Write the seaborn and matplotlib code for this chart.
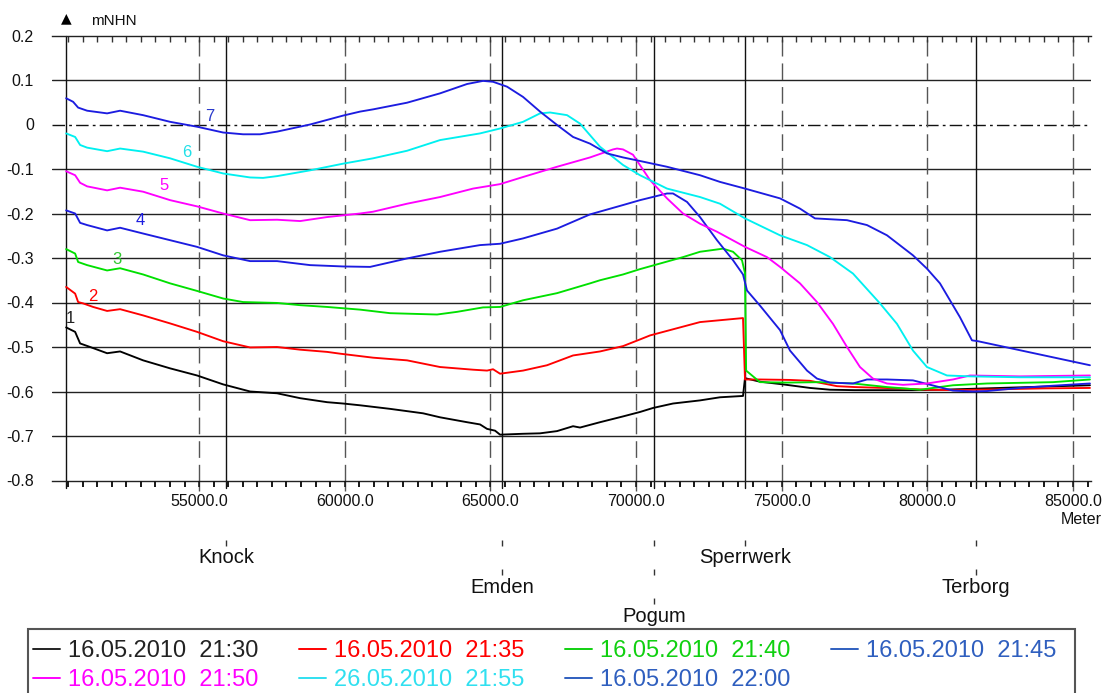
import numpy as np
import pandas as pd
import matplotlib
matplotlib.use("Agg")
import matplotlib.pyplot as plt
import matplotlib.transforms as mtransforms
from matplotlib.lines import Line2D
from matplotlib.patches import Rectangle
import seaborn as sns

# ---- water level profiles (station in metres, level in m NHN) ----
labels = ["16.05.2010  21:30", "16.05.2010  21:35", "16.05.2010  21:40",
          "16.05.2010  21:45", "16.05.2010  21:50", "26.05.2010  21:55",
          "16.05.2010  22:00"]

x1 = [50435, 50744, 50915, 51259, 51842, 52288, 53078, 54005, 54931, 55824,
      56751, 57677, 58467, 59394, 59943, 60526, 61556, 62689, 63272, 64199,
      64645, 64886, 65160, 65332, 66121, 66705, 67288, 67838, 68078, 68764,
      69554, 70137, 70584, 71270, 72197, 72883, 73673, 73741, 74256, 75046,
      75973, 76659, 77500, 78500, 79500, 80500, 81500, 82500, 83500, 84500, 85584]
y1 = [-0.456, -0.466, -0.492, -0.500, -0.514, -0.510, -0.530, -0.548, -0.564, -0.584,
      -0.600, -0.604, -0.615, -0.624, -0.627, -0.631, -0.639, -0.649, -0.658, -0.669,
      -0.674, -0.684, -0.688, -0.697, -0.695, -0.694, -0.689, -0.678, -0.681, -0.669,
      -0.656, -0.646, -0.637, -0.627, -0.620, -0.613, -0.610, -0.570, -0.578, -0.584,
      -0.592, -0.596, -0.597, -0.597, -0.597, -0.596, -0.594, -0.592, -0.590, -0.588, -0.586]

x2 = [50435, 50744, 50847, 51018, 51362, 51842, 52288, 53078, 54005, 54931,
      55824, 56751, 57677, 58467, 59394, 59840, 60973, 62140, 63272, 64405,
      64886, 65092, 65332, 66121, 66945, 67838, 68764, 69554, 70137, 70481,
      72197, 73673, 73741, 74256, 75286, 75973, 76899, 77500, 79000, 80000,
      81000, 82500, 84000, 85584]
y2 = [-0.365, -0.380, -0.399, -0.402, -0.410, -0.419, -0.415, -0.429, -0.447, -0.466,
      -0.487, -0.501, -0.500, -0.506, -0.511, -0.515, -0.524, -0.530, -0.545, -0.551,
      -0.553, -0.550, -0.560, -0.553, -0.541, -0.519, -0.510, -0.498, -0.483, -0.474,
      -0.444, -0.435, -0.573, -0.573, -0.574, -0.576, -0.588, -0.590, -0.593, -0.596,
      -0.597, -0.595, -0.593, -0.592]

x3 = [50435, 50744, 50847, 51156, 51842, 52288, 53078, 54005, 54931, 55824,
      56510, 57677, 58467, 59394, 60526, 61556, 63169, 63856, 64748, 65332,
      66121, 67288, 68421, 68764, 69554, 70137, 71613, 72197, 72986, 73330,
      73638, 73741, 73780, 74256, 75183, 76316, 77449, 78616, 79748, 80881,
      82048, 84314, 85584]
y3 = [-0.280, -0.290, -0.309, -0.316, -0.328, -0.323, -0.337, -0.357, -0.374, -0.391,
      -0.399, -0.401, -0.406, -0.410, -0.416, -0.424, -0.427, -0.421, -0.411, -0.410,
      -0.395, -0.379, -0.357, -0.350, -0.337, -0.325, -0.298, -0.286, -0.279, -0.286,
      -0.305, -0.334, -0.553, -0.579, -0.580, -0.579, -0.582, -0.590, -0.596, -0.586,
      -0.582, -0.579, -0.573]

x4 = [50435, 50744, 50915, 51156, 51842, 52288, 53078, 54005, 54931, 55824,
      56751, 57677, 58810, 59943, 60870, 62140, 63272, 64645, 65332, 66121,
      67288, 68421, 69554, 70137, 71064, 71270, 71751, 72197, 72780, 73330,
      73673, 73810, 74256, 74943, 75286, 75870, 76213, 76659, 77449, 77929,
      78616, 79508, 80881, 81568, 82048, 83181, 84314, 85584]
y4 = [-0.193, -0.200, -0.221, -0.226, -0.238, -0.232, -0.245, -0.260, -0.275, -0.294,
      -0.307, -0.307, -0.316, -0.319, -0.320, -0.301, -0.286, -0.271, -0.268, -0.256,
      -0.234, -0.202, -0.181, -0.170, -0.155, -0.155, -0.174, -0.208, -0.260, -0.305,
      -0.337, -0.373, -0.407, -0.462, -0.508, -0.553, -0.571, -0.580, -0.582, -0.573,
      -0.573, -0.575, -0.598, -0.600, -0.599, -0.592, -0.587, -0.582]

x5 = [50435, 50744, 50915, 51156, 51842, 52288, 53078, 54005, 54931, 55824,
      56751, 57677, 58467, 59394, 60526, 60973, 62140, 63272, 64405, 65332,
      66121, 67288, 68421, 69211, 69348, 69554, 69897, 70481, 71064, 71613,
      72197, 72780, 73741, 74497, 74943, 75629, 76213, 76762, 77243, 77689,
      78135, 78616, 79165, 79989, 80881, 81465, 83181, 85584]
y5 = [-0.105, -0.114, -0.131, -0.139, -0.148, -0.142, -0.151, -0.170, -0.184, -0.200,
      -0.215, -0.214, -0.217, -0.208, -0.200, -0.196, -0.178, -0.163, -0.144, -0.134,
      -0.118, -0.095, -0.074, -0.056, -0.054, -0.056, -0.068, -0.125, -0.166, -0.200,
      -0.223, -0.241, -0.275, -0.298, -0.320, -0.357, -0.399, -0.448, -0.500, -0.545,
      -0.571, -0.582, -0.585, -0.582, -0.573, -0.564, -0.566, -0.564]

x6 = [50435, 50744, 50915, 51156, 51842, 52288, 53078, 54005, 54931, 55824,
      56751, 57197, 57677, 58810, 59943, 60973, 62140, 63272, 64645, 65332,
      66121, 66705, 67048, 67632, 68078, 68764, 69554, 70137, 71064, 72197,
      72883, 73741, 74943, 75870, 76659, 77449, 78375, 78959, 79508, 79989,
      80675, 81465, 83181, 85584]
y6 = [-0.020, -0.028, -0.046, -0.052, -0.060, -0.054, -0.061, -0.076, -0.095, -0.110,
      -0.119, -0.120, -0.116, -0.103, -0.088, -0.076, -0.059, -0.035, -0.020, -0.009,
      0.006, 0.025, 0.027, 0.021, 0.002, -0.050, -0.091, -0.114, -0.144, -0.163,
      -0.178, -0.211, -0.249, -0.271, -0.298, -0.335, -0.402, -0.448, -0.508, -0.545,
      -0.564, -0.566, -0.568, -0.568]

x7 = [50435, 50675, 50847, 51156, 51842, 52288, 53078, 54005, 54931, 55824,
      56510, 57094, 57677, 58810, 59943, 60526, 60973, 62140, 63272, 64199,
      64748, 65092, 65572, 66121, 66705, 67288, 67838, 68421, 69005, 69554,
      70137, 71064, 72197, 72883, 73741, 74943, 75629, 76144, 77243, 77929,
      78616, 79508, 79989, 80435, 80778, 81121, 81533, 81739, 85584]
y7 = [0.059, 0.051, 0.038, 0.031, 0.025, 0.031, 0.021, 0.006, -0.005, -0.018,
      -0.022, -0.022, -0.016, 0.000, 0.020, 0.029, 0.034, 0.049, 0.070, 0.091,
      0.098, 0.096, 0.085, 0.062, 0.029, -0.001, -0.028, -0.043, -0.065, -0.074,
      -0.082, -0.095, -0.114, -0.129, -0.144, -0.166, -0.189, -0.211, -0.215, -0.226,
      -0.249, -0.294, -0.324, -0.357, -0.395, -0.433, -0.485, -0.487, -0.541]

curve_colors = ["#000000", "#ff0000", "#00e000", "#1c1ce0", "#ff00ff", "#00f0f0", "#1c1ce0"]
legend_colors = ["#222222", "#ff0000", "#10d010", "#2f5fbf", "#ff00ff", "#30e0f0", "#2f5fbf"]

# curve numbers drawn next to the left end of each profile
curve_ids = ["1", "2", "3", "4", "5", "6", "7"]
id_x = [50590, 51360, 52180, 52975, 53800, 54590, 55380]
id_y = [-0.437, -0.386, -0.303, -0.215, -0.136, -0.062, 0.017]
id_colors = ["#222222", "#ff0000", "#30c830", "#1c1ce0", "#ff00ff", "#20e0e8", "#2a3acc"]

# axis scales
level_ticks = [0.2, 0.1, 0.0, -0.1, -0.2, -0.3, -0.4, -0.5, -0.6, -0.7, -0.8]
level_labels = ["0.2", "0.1", "0", "-0.1", "-0.2", "-0.3", "-0.4", "-0.5", "-0.6", "-0.7", "-0.8"]
station_ticks = [55000, 60000, 65000, 70000, 75000, 80000, 85000]
station_labels = ["55000.0", "60000.0", "65000.0", "70000.0", "75000.0", "80000.0", "85000.0"]

# named places along the river
places = ["Knock", "Emden", "Pogum", "Sperrwerk", "Terborg"]
place_x = [55927, 65400, 70620, 73741, 81670]
place_row = [0, 1, 2, 0, 1]
profile_start = 50435

# ---- figure ----
sns.set_style("white")
plt.rcParams["font.family"] = ["Liberation Sans", "DejaVu Sans"]

W, H = 1107, 693
fig = plt.figure(figsize=(W / 100, H / 100), dpi=100)
ax_h = 480.5 - 35.5
ax = fig.add_axes([52 / W, 1 - 480.5 / H, (1091 - 52) / W, ax_h / H])

frames = []
for name, xs, ys in zip(labels, [x1, x2, x3, x4, x5, x6, x7], [y1, y2, y3, y4, y5, y6, y7]):
    frames.append(pd.DataFrame({"station": xs, "level": ys, "series": name}))
df = pd.concat(frames, ignore_index=True)

sns.lineplot(data=df, x="station", y="level", hue="series", hue_order=labels,
             palette=dict(zip(labels, curve_colors)), estimator=None, sort=False,
             linewidth=1.35, legend=False, ax=ax, zorder=3)

ax.set_xlim(49950, 85620)
ax.set_ylim(-0.8, 0.2)

# horizontal grid
for lv in level_ticks[1:-1]:
    if lv == 0:
        ax.axhline(lv, color="#111111", lw=1.0, dashes=(9, 3, 2, 3), zorder=1)
    else:
        ax.axhline(lv, color="#222222", lw=1.0, zorder=1)

# vertical grid at labelled stations
for st in station_ticks:
    ax.axvline(st, color="#555555", lw=1.0, dashes=(12, 5), zorder=1)

# place markers and profile start
for px in place_x + [profile_start]:
    ax.axvline(px, ymin=-0.016, ymax=1, color="#111111", lw=1.0, zorder=2, clip_on=False)

for cid, cx, cy, cc in zip(curve_ids, id_x, id_y, id_colors):
    ax.text(cx, cy, cid, color=cc, fontsize=12, ha="center", va="center", zorder=4)

# spines and ticks
for side in ["left", "right"]:
    ax.spines[side].set_visible(False)
for side in ["top", "bottom"]:
    ax.spines[side].set_color("#222222")
    ax.spines[side].set_linewidth(1.0)

ax.set_yticks(level_ticks)
ax.set_yticklabels(level_labels)
ax.tick_params(axis="y", left=False, length=0, pad=13, labelsize=11.5, labelcolor="#111111")

# labelled stations as major ticks, 500 m steps as minor ticks along the bottom
minor = np.arange(50500, 85600, 500)
ax.set_xticks(station_ticks)
ax.set_xticklabels(station_labels)
ax.set_xticks(minor, minor=True)
ax.tick_params(axis="x", which="major", bottom=True, top=False, length=7.5, width=1.0,
               color="#555555", direction="out", pad=2, labelsize=11.5, labelcolor="#111111")
ax.tick_params(axis="x", which="minor", bottom=True, top=False, length=4.5, width=1.1,
               color="#111111", direction="out")
ax.set_xlabel("")
ax.set_ylabel("")

# 500 m marks: inward along the top edge, outward along the bottom edge
xa = ax.get_xaxis_transform()
mark = 6 / ax_h
ax.vlines(minor, 1 - mark, 1, transform=xa, color="#333333", lw=1.0, zorder=2)
ax.vlines(minor, -mark, 0, transform=xa, color="#111111", lw=1.1, zorder=10, clip_on=False)

# axis captions
fig.text(66 / W, 1 - 18 / H, "\u25b2", fontsize=10, ha="center", va="center",
         family=["DejaVu Sans"], color="#000000")
fig.text(91 / W, 1 - 21 / H, "mNHN", fontsize=11, ha="left", va="center", color="#111111")
fig.text(1102 / W, 1 - 519 / H, "Meter", fontsize=11.5, ha="right", va="center", color="#111111")

# place names below the axis
trans = mtransforms.blended_transform_factory(ax.transData, fig.transFigure)
row_base = [563, 593, 622]
row_top = [547, 576, 605]
for name, px, r in zip(places, place_x, place_row):
    ax.text(px, 1 - row_base[r] / H, name, transform=trans, fontsize=14.5,
            ha="center", va="baseline", color="#111111", clip_on=False)
    ax.plot([px, px], [1 - 540 / H, 1 - row_top[r] / H], transform=trans,
            color="#333333", lw=1.0, dashes=(4.3, 16.6), clip_on=False)

# legend box and entries
fig.patches.append(Rectangle((28 / W, -0.05), (1075 - 28) / W, (1 - 629 / H) + 0.05,
                             transform=fig.transFigure, facecolor="white",
                             edgecolor="#555555", lw=1.5, zorder=4))
order = [0, 4, 1, 5, 2, 6, 3]
handles = [Line2D([], [], color=legend_colors[i], lw=1.4) for i in order]
leg = fig.legend(handles, [labels[i] for i in order], ncol=4, loc="upper left",
                 bbox_to_anchor=(33 / W, 1 - 640 / H), frameon=False, fontsize=17,
                 handlelength=1.15, handletextpad=0.35, columnspacing=1.7,
                 labelspacing=0.3, borderpad=0, borderaxespad=0,
                 labelcolor=[legend_colors[i] for i in order])
leg.set_zorder(5)

fig.savefig("out.png", dpi=100)
